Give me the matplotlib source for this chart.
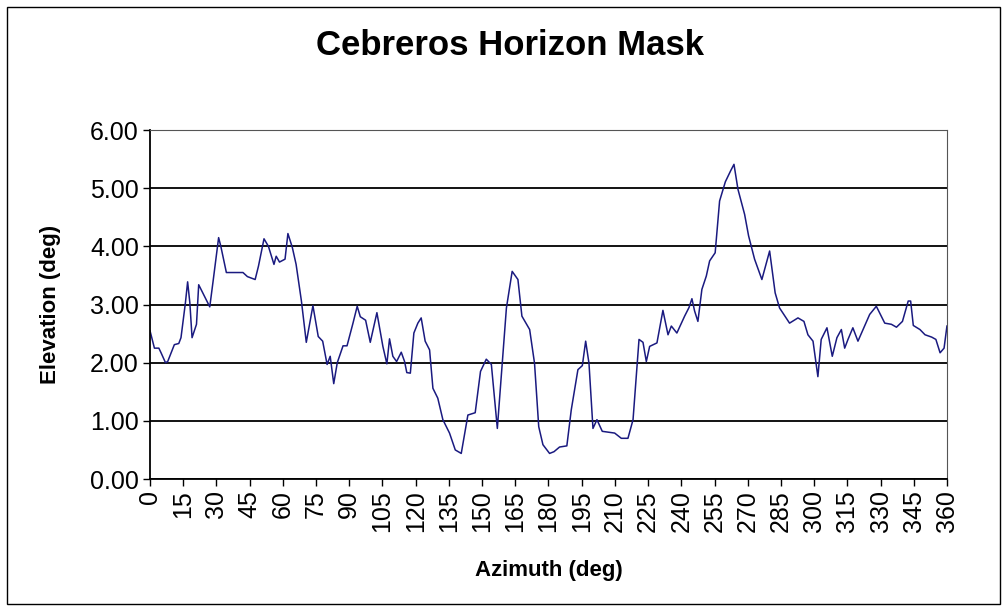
"""Cebreros horizon mask, elevation vs azimuth."""

import matplotlib

matplotlib.use("Agg")
import matplotlib.pyplot as plt
from matplotlib.patches import Rectangle

plt.rcParams["font.family"] = ["Liberation Sans", "DejaVu Sans"]

# values
azimuth = [
    0, 2, 4, 5, 7, 8, 11, 13, 14, 16, 17, 18, 19, 21, 22, 25, 27, 28.5, 31, 32,
    34.5, 42, 44, 47.5, 49, 51.5, 53.5, 56, 57, 58.5, 61, 62.3, 64.3, 66, 68.4,
    70.6, 73.6, 76, 78, 80, 81.4, 83, 84.6, 87.2, 89, 91.7, 93.6, 95, 97.4, 99.5,
    102.5, 105.2, 107, 108.2, 109.7, 111.4, 113.5, 115, 116, 117.6, 119.2, 121,
    122.5, 124.3, 126.3, 127.8, 130, 132.3, 135.3, 137.9, 140.6, 143.6, 146.9,
    149.3, 151.9, 154.2, 156.9, 159, 161, 163.6, 166.2, 168, 171.5, 173.7, 175.6,
    177.5, 180.5, 182.5, 185, 188.3, 190.3, 193.3, 195.3, 196.8, 198.3, 200.1,
    201.9, 204.3, 209.9, 212.9, 215.9, 218.2, 220.9, 222.7, 224.2, 225.7, 229,
    231.7, 234, 235.5, 238, 241.5, 243.5, 244.8, 246, 247.5, 249.3, 251.3, 252.8,
    255.3, 257.3, 259.9, 262.3, 263.8, 265.6, 268.6, 270.4, 273.1, 276.4, 279.9,
    282.4, 284.4, 288.9, 292.7, 295.4, 297.2, 299.5, 301.7, 303.2, 305.8, 308.2,
    310.3, 312.3, 313.8, 315.3, 317.5, 319.8, 322.8, 325.1, 328.1, 331.9, 334.9,
    337.2, 339.9, 342.5, 343.6, 344.8, 347.8, 350.1, 353.1, 355, 356.9, 358.7, 360,
]
elevation = [
    2.55, 2.25, 2.25, 2.17, 2.00, 2.02, 2.31, 2.33, 2.43, 3.03, 3.39, 3.03, 2.43,
    2.66, 3.34, 3.11, 2.96, 3.40, 4.15, 4.00, 3.55, 3.55, 3.48, 3.43, 3.66, 4.13,
    4.00, 3.69, 3.83, 3.73, 3.78, 4.22, 3.98, 3.69, 3.06, 2.35, 2.98, 2.45, 2.37,
    1.97, 2.11, 1.64, 2.00, 2.29, 2.29, 2.68, 2.97, 2.79, 2.73, 2.35, 2.86, 2.28,
    1.98, 2.41, 2.11, 2.02, 2.18, 2.02, 1.83, 1.82, 2.51, 2.68, 2.77, 2.37, 2.22,
    1.56, 1.39, 1.02, 0.79, 0.50, 0.44, 1.10, 1.14, 1.85, 2.06, 1.97, 0.87, 1.94,
    2.94, 3.57, 3.43, 2.80, 2.57, 1.99, 0.90, 0.59, 0.44, 0.47, 0.55, 0.57, 1.19,
    1.88, 1.95, 2.37, 1.99, 0.87, 1.02, 0.82, 0.79, 0.70, 0.70, 1.02, 2.40, 2.35,
    2.02, 2.28, 2.34, 2.90, 2.48, 2.63, 2.51, 2.80, 2.95, 3.10, 2.89, 2.71, 3.26,
    3.49, 3.75, 3.89, 4.78, 5.11, 5.30, 5.41, 4.98, 4.55, 4.18, 3.78, 3.43, 3.92,
    3.20, 2.94, 2.68, 2.77, 2.71, 2.48, 2.37, 1.76, 2.40, 2.60, 2.11, 2.43, 2.57,
    2.25, 2.40, 2.60, 2.37, 2.63, 2.83, 2.97, 2.68, 2.66, 2.61, 2.71, 3.06, 3.06,
    2.64, 2.57, 2.48, 2.44, 2.40, 2.17, 2.25, 2.63,
]
x_ticks = list(range(0, 361, 15))
y_ticks = [0, 1, 2, 3, 4, 5, 6]

fig = plt.figure(figsize=(10.06, 6.11), dpi=100)
fig.patches.append(Rectangle((0.007, 0.012), 0.987, 0.977, transform=fig.transFigure,
                             fill=False, edgecolor="black", linewidth=1.0))
ax = fig.add_axes([0.1491, 0.2160, 0.7922, 0.5712])

ax.plot(azimuth, elevation, color="#1a1a80", linewidth=1.1)

ax.set_xlim(0, 360)
ax.set_ylim(0, 6)
ax.set_xticks(x_ticks)
ax.set_xticklabels([str(t) for t in x_ticks], rotation=90, fontsize=18)
ax.set_yticks(y_ticks)
ax.set_yticklabels([f"{t:.2f}" for t in y_ticks], fontsize=18)
ax.yaxis.grid(True, color="black", linewidth=1.3)
ax.set_axisbelow(True)
ax.tick_params(axis="both", direction="out", length=5, width=1, pad=3)
for side in ("left", "bottom"):
    ax.spines[side].set_linewidth(1.3)
for side in ("top", "right"):
    ax.spines[side].set_color("#555555")

ax.set_xlabel("Azimuth (deg)", fontsize=16, fontweight="bold", labelpad=20)
ax.set_ylabel("Elevation (deg)", fontsize=16, fontweight="bold", labelpad=21)
fig.text(0.507, 0.925, "Cebreros Horizon Mask", ha="center", va="center",
         fontsize=25, fontweight="bold")

fig.savefig("out.png", dpi=100)
